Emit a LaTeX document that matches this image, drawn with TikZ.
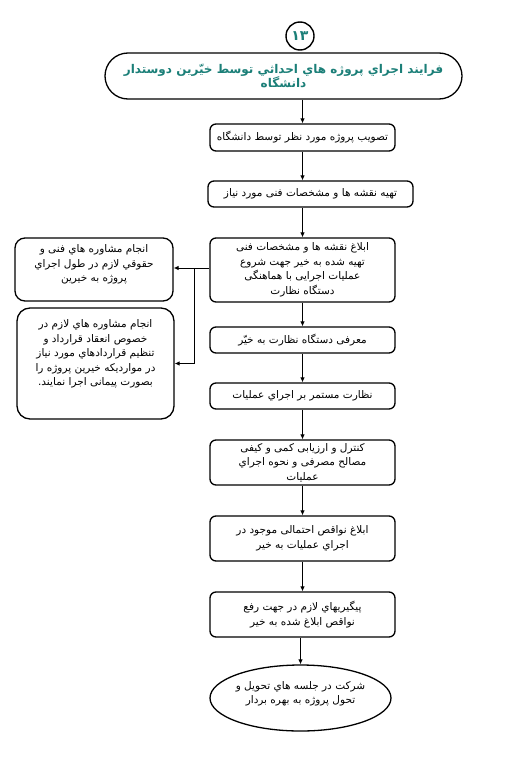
\documentclass[tikz,border=0pt]{standalone}
\usepackage{fontspec}
\usetikzlibrary{arrows.meta,shapes.geometric}
\TeXXeTstate=1
\newfontfamily\arabicfont[Script=Arabic]{DejaVu Sans}
\newcommand\rtltext[1]{\beginR #1\endR}
\definecolor{tealtxt}{HTML}{1B7F78}
\tikzset{
  txt/.style={font=\arabicfont\fontsize{10.5}{14.5}\selectfont, align=center},
  stepbox/.style={draw, line width=1.3pt, rounded corners=6pt, minimum width=185pt, inner sep=1pt, txt},
  leftbox/.style={draw, line width=1.3pt, rounded corners=10pt, inner sep=1pt, txt},
  arr/.style={line width=0.9pt, -{Latex[length=5pt,width=4.5pt]}}
}
\begin{document}
\begin{tikzpicture}[x=1pt,y=-1pt]
\useasboundingbox (0,0) rectangle (505,768);
\fill[white] (0,0) rectangle (505,768);

\node[draw, circle, line width=1.4pt, minimum size=28pt, inner sep=0pt, text=tealtxt,
  font=\arabicfont\bfseries\fontsize{14}{14}\selectfont] (num) at (300,36) {۱۳};

\node[draw, line width=1.3pt, rounded corners=23pt, minimum width=357pt, minimum height=46pt,
  align=center, text=tealtxt, font=\arabicfont\bfseries\fontsize{12}{14}\selectfont] (title) at (283.5,76)
  {\rtltext{فرایند اجراي پروژه هاي احداثي توسط خيّرين دوستدار}\\ \rtltext{دانشگاه}};

\node[stepbox, minimum height=27pt] (b1) at (302.5,137.5) {\rtltext{تصویب پروژه مورد نظر توسط دانشگاه}};
\node[stepbox, minimum width=205pt, minimum height=26pt] (b2) at (310.5,194) {\rtltext{تهیه نقشه ها و مشخصات فنی مورد نیاز}};
\node[stepbox, minimum height=64pt] (b3) at (302.5,270)
  {\rtltext{ابلاغ نقشه ها و مشخصات فنی}\\ \rtltext{تهیه شده  به خیر جهت شروع}\\ \rtltext{عملیات اجرایی با هماهنگی}\\ \rtltext{دستگاه نظارت}};
\node[stepbox, minimum height=26pt] (b4) at (302.5,340) {\rtltext{معرفی دستگاه نظارت به خیّر}};
\node[stepbox, minimum height=26pt] (b5) at (302.5,396) {\rtltext{نظارت مستمر بر اجراي عملیات}};
\node[stepbox, minimum height=45pt] (b6) at (302.5,462.5)
  {\rtltext{کنترل و ارزیابی کمی و کیفی}\\ \rtltext{مصالح مصرفی و نحوه اجراي}\\ \rtltext{عملیات}};
\node[stepbox, minimum height=45pt] (b7) at (302.5,538.5)
  {\rtltext{ابلاغ نواقص احتمالی موجود در}\\ \rtltext{اجراي عملیات به خیر}};
\node[stepbox, minimum height=45pt] (b8) at (302.5,614.5)
  {\rtltext{پیگیریهاي لازم در جهت رفع}\\ \rtltext{نواقص ابلاغ شده به خیر}};
\node[draw, ellipse, line width=1.3pt, minimum width=181pt, minimum height=66pt, inner sep=0pt] (end) at (300.5,698) {};
\node[txt] (endt) at (300.5,694)
  {\rtltext{شرکت در جلسه هاي تحویل و}\\ \rtltext{تحول پروژه به بهره بردار}};

\node[leftbox, minimum width=158pt, minimum height=63pt] (L1) at (94,269.5) {};
\node[txt, anchor=north] (L1t) at (94,241)
  {\rtltext{انجام مشاوره هاي فنی و}\\ \rtltext{حقوقي لازم در طول اجراي}\\ \rtltext{پروژه به خیرین}};
\node[leftbox, rounded corners=13pt, minimum width=157pt, minimum height=111pt] (L2) at (95.5,363.5) {};
\node[txt, anchor=north] (L2t) at (95.5,316)
  {\rtltext{انجام مشاوره هاي لازم در}\\ \rtltext{خصوص انعقاد قرارداد و}\\ \rtltext{تنظیم قراردادهاي مورد نیاز}\\ \rtltext{در مواردیکه  خیرین پروژه را}\\ \rtltext{بصورت پیمانی اجرا نمایند.}};

\draw[arr] (b1.north |- title.south) -- (b1.north);
\draw[arr] (b1) -- (b2.north -| b1);
\draw[arr] (b3.north |- b2.south) -- (b3.north);
\draw[arr] (b3) -- (b4);
\draw[arr] (b4) -- (b5);
\draw[arr] (b5) -- (b6);
\draw[arr] (b6) -- (b7);
\draw[arr] (b7) -- (b8);
\draw[arr] (b8.south -| end.north) -- (end.north);

\coordinate (j) at (194,268);
\draw[arr] (b3.west |- j) -- (L1.east |- j);
\draw[arr] (j) |- (L2.east);
\end{tikzpicture}
\end{document}
